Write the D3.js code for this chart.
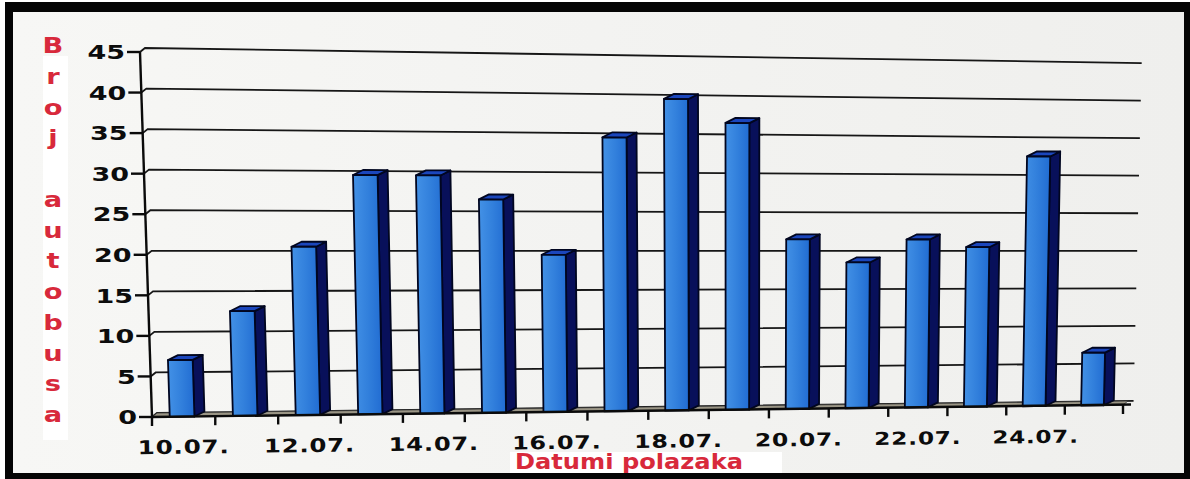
<!DOCTYPE html>
<html>
<head>
<meta charset="utf-8">
<script src="https://cdn.jsdelivr.net/npm/d3@7"></script>
<style>
  html, body { margin: 0; padding: 0; background: #fff; }
  #chart { width: 1190px; height: 479px; }
  text { font-family: "DejaVu Sans", Verdana, sans-serif; font-weight: bold; }
</style>
</head>
<body>
<div id="chart"></div>
<script>
var dates = ["10.07.", "11.07.", "12.07.", "13.07.", "14.07.", "15.07.", "16.07.", "17.07.",
             "18.07.", "19.07.", "20.07.", "21.07.", "22.07.", "23.07.", "24.07.", "25.07."];
var buses = [7, 13, 21, 30, 30, 27, 20, 35, 40, 37, 22, 19, 22, 21, 33, 7];
var yTicks = [0, 5, 10, 15, 20, 25, 30, 35, 40, 45];
var xLabels = ["10.07.", "12.07.", "14.07.", "16.07.", "18.07.", "20.07.", "22.07.", "24.07."];
var yTitle = "Broj autobusa";
var xTitle = "Datumi polazaka";

var w = 1190, h = 479;

var svg = d3.select("#chart").append("svg")
  .attr("width", w)
  .attr("height", h);

var defs = svg.append("defs");
var bg = defs.append("linearGradient").attr("id", "bg");
bg.append("stop").attr("offset", 0).attr("stop-color", "#f7f7f5");
bg.append("stop").attr("offset", 1).attr("stop-color", "#efefed");
var fg = defs.append("linearGradient").attr("id", "front");
fg.append("stop").attr("offset", 0).attr("stop-color", "#4391e6");
fg.append("stop").attr("offset", 0.5).attr("stop-color", "#3280dc");
fg.append("stop").attr("offset", 1).attr("stop-color", "#216cd2");

// photo frame
svg.append("rect").attr("x", 5).attr("y", 2).attr("width", w - 5).attr("height", h - 2).attr("fill", "#050505");
svg.append("rect").attr("x", 13).attr("y", 12).attr("width", 1171).attr("height", 461).attr("fill", "url(#bg)");

// the photographed chart is skewed: map (u, v) in the unit square onto the front plane
var bl = [152, 417], br = [1123, 405], tr = [1131, 67], tl = [140, 52];
var k = 0.0454;
var persp = u => u * (1 + k) / (1 + k * u);
var proj = function(u, v) {
  var s = persp(u);
  return [
    (1 - s) * (1 - v) * bl[0] + s * (1 - v) * br[0] + s * v * tr[0] + (1 - s) * v * tl[0],
    (1 - s) * (1 - v) * bl[1] + s * (1 - v) * br[1] + s * v * tr[1] + (1 - s) * v * tl[1]
  ];
};
var wall = [5, -4];   // back wall offset
var depth = [10, -5]; // bar depth
var add = (p, o) => [p[0] + o[0], p[1] + o[1]];
var localScale = u => (proj(u, 0)[1] - proj(u, 1)[1]) / (bl[1] - tl[1]);

var xScale = d3.scaleBand().domain(dates).range([0, 1]);
var yScale = d3.scaleLinear().domain([0, 45]).range([0, 1]);
var bw = xScale.bandwidth();

var line = d3.line();

// gridlines on the back wall
svg.append("g")
  .selectAll("path")
  .data(yTicks)
  .join("path")
    .attr("d", d => line([proj(0, yScale(d)), add(proj(0, yScale(d)), wall), add(proj(1.006, yScale(d)), wall)]))
    .attr("fill", "none")
    .attr("stroke", "#161616")
    .attr("stroke-width", 1.8);

// floor
var f0 = proj(0, 0), f1 = proj(1, 0);
svg.append("path")
  .attr("d", line([f0, f1, add(f1, wall), add(f0, wall)]) + "Z")
  .attr("fill", "#9a9585")
  .attr("stroke", "#333")
  .attr("stroke-width", 0.8);

// bars
var barData = dates.map((d, i) => ({date: d, value: buses[i]}));
var barG = svg.append("g")
  .selectAll("g")
  .data(barData)
  .join("g")
    .attr("stroke", "#010620")
    .attr("stroke-width", 1.8)
    .attr("stroke-linejoin", "round");

barG.each(function(d) {
  var g = d3.select(this);
  var u0 = xScale(d.date) + 0.28 * bw, u1 = xScale(d.date) + 0.67 * bw;
  var a = proj(u0, 0), b = proj(u1, 0);
  var c = proj(u1, yScale(d.value)), e = proj(u0, yScale(d.value));
  g.append("path")
    .attr("d", line([b, add(b, depth), add(c, depth), c]) + "Z")
    .attr("fill", "#08105a");
  g.append("path")
    .attr("d", line([e, c, add(c, depth), add(e, depth)]) + "Z")
    .attr("fill", "#1b46bc");
  g.append("path")
    .attr("d", line([a, b, c, e]) + "Z")
    .attr("fill", "url(#front)");
});

// axes
var axes = svg.append("g")
  .attr("fill", "none")
  .attr("stroke", "#0a0a0a")
  .attr("stroke-width", 2.4);
axes.append("path").attr("d", line([proj(0, 0), proj(0, 1)]));
axes.append("path").attr("d", line([proj(0, 0), add(proj(1, 0), [8, -0.5])]));
axes.selectAll(".ytick")
  .data(yTicks)
  .join("path")
    .attr("d", d => { var p = proj(0, yScale(d)); return line([[p[0] - 13, p[1]], p]); });
axes.selectAll(".xtick")
  .data(d3.range(dates.length + 1))
  .join("path")
    .attr("d", i => { var p = proj(i * bw, 0); return line([p, [p[0], p[1] + 9]]); });

// y tick labels
svg.append("g")
  .selectAll("text")
  .data(yTicks)
  .join("text")
    .attr("transform", d => { var p = proj(0, yScale(d)); return "translate(" + (p[0] - 15) + "," + p[1] + ") scale(1.35,1)"; })
    .attr("text-anchor", "end")
    .attr("dy", "0.36em")
    .attr("font-size", 20)
    .attr("fill", "#0c0c0c")
    .text(d => d);

// x tick labels
var ang = Math.atan2(br[1] - bl[1], br[0] - bl[0]) * 180 / Math.PI;
svg.append("g")
  .selectAll("text")
  .data(xLabels)
  .join("text")
    .attr("transform", d => {
      var u = xScale(d) + bw / 2, p = proj(u, 0);
      return "translate(" + p[0] + "," + (p[1] + 37) + ") rotate(" + ang + ") scale(1.3,1)";
    })
    .attr("text-anchor", "middle")
    .attr("font-size", d => 19 * localScale(xScale(d) + bw / 2))
    .attr("letter-spacing", 0.6)
    .attr("fill", "#0c0c0c")
    .text(d => d);

// y title, stacked letters
svg.append("rect").attr("x", 43).attr("y", 56).attr("width", 25).attr("height", 384).attr("fill", "#fff");
svg.append("g")
  .selectAll("text")
  .data(yTitle.split(""))
  .join("text")
    .attr("transform", (d, i) => "translate(53," + (53 + i * 30.75) + ") scale(1.3,1)")
    .attr("text-anchor", "middle")
    .attr("font-size", 21)
    .attr("fill", "#d8293b")
    .text(d => d);

// x title
svg.append("rect").attr("x", 510).attr("y", 452).attr("width", 272).attr("height", 21).attr("fill", "#fff");
svg.append("text")
  .attr("x", 515)
  .attr("y", 469)
  .attr("font-size", 21)
  .attr("textLength", 228)
  .attr("lengthAdjust", "spacingAndGlyphs")
  .attr("fill", "#d8293b")
  .text(xTitle);
</script>
</body>
</html>
